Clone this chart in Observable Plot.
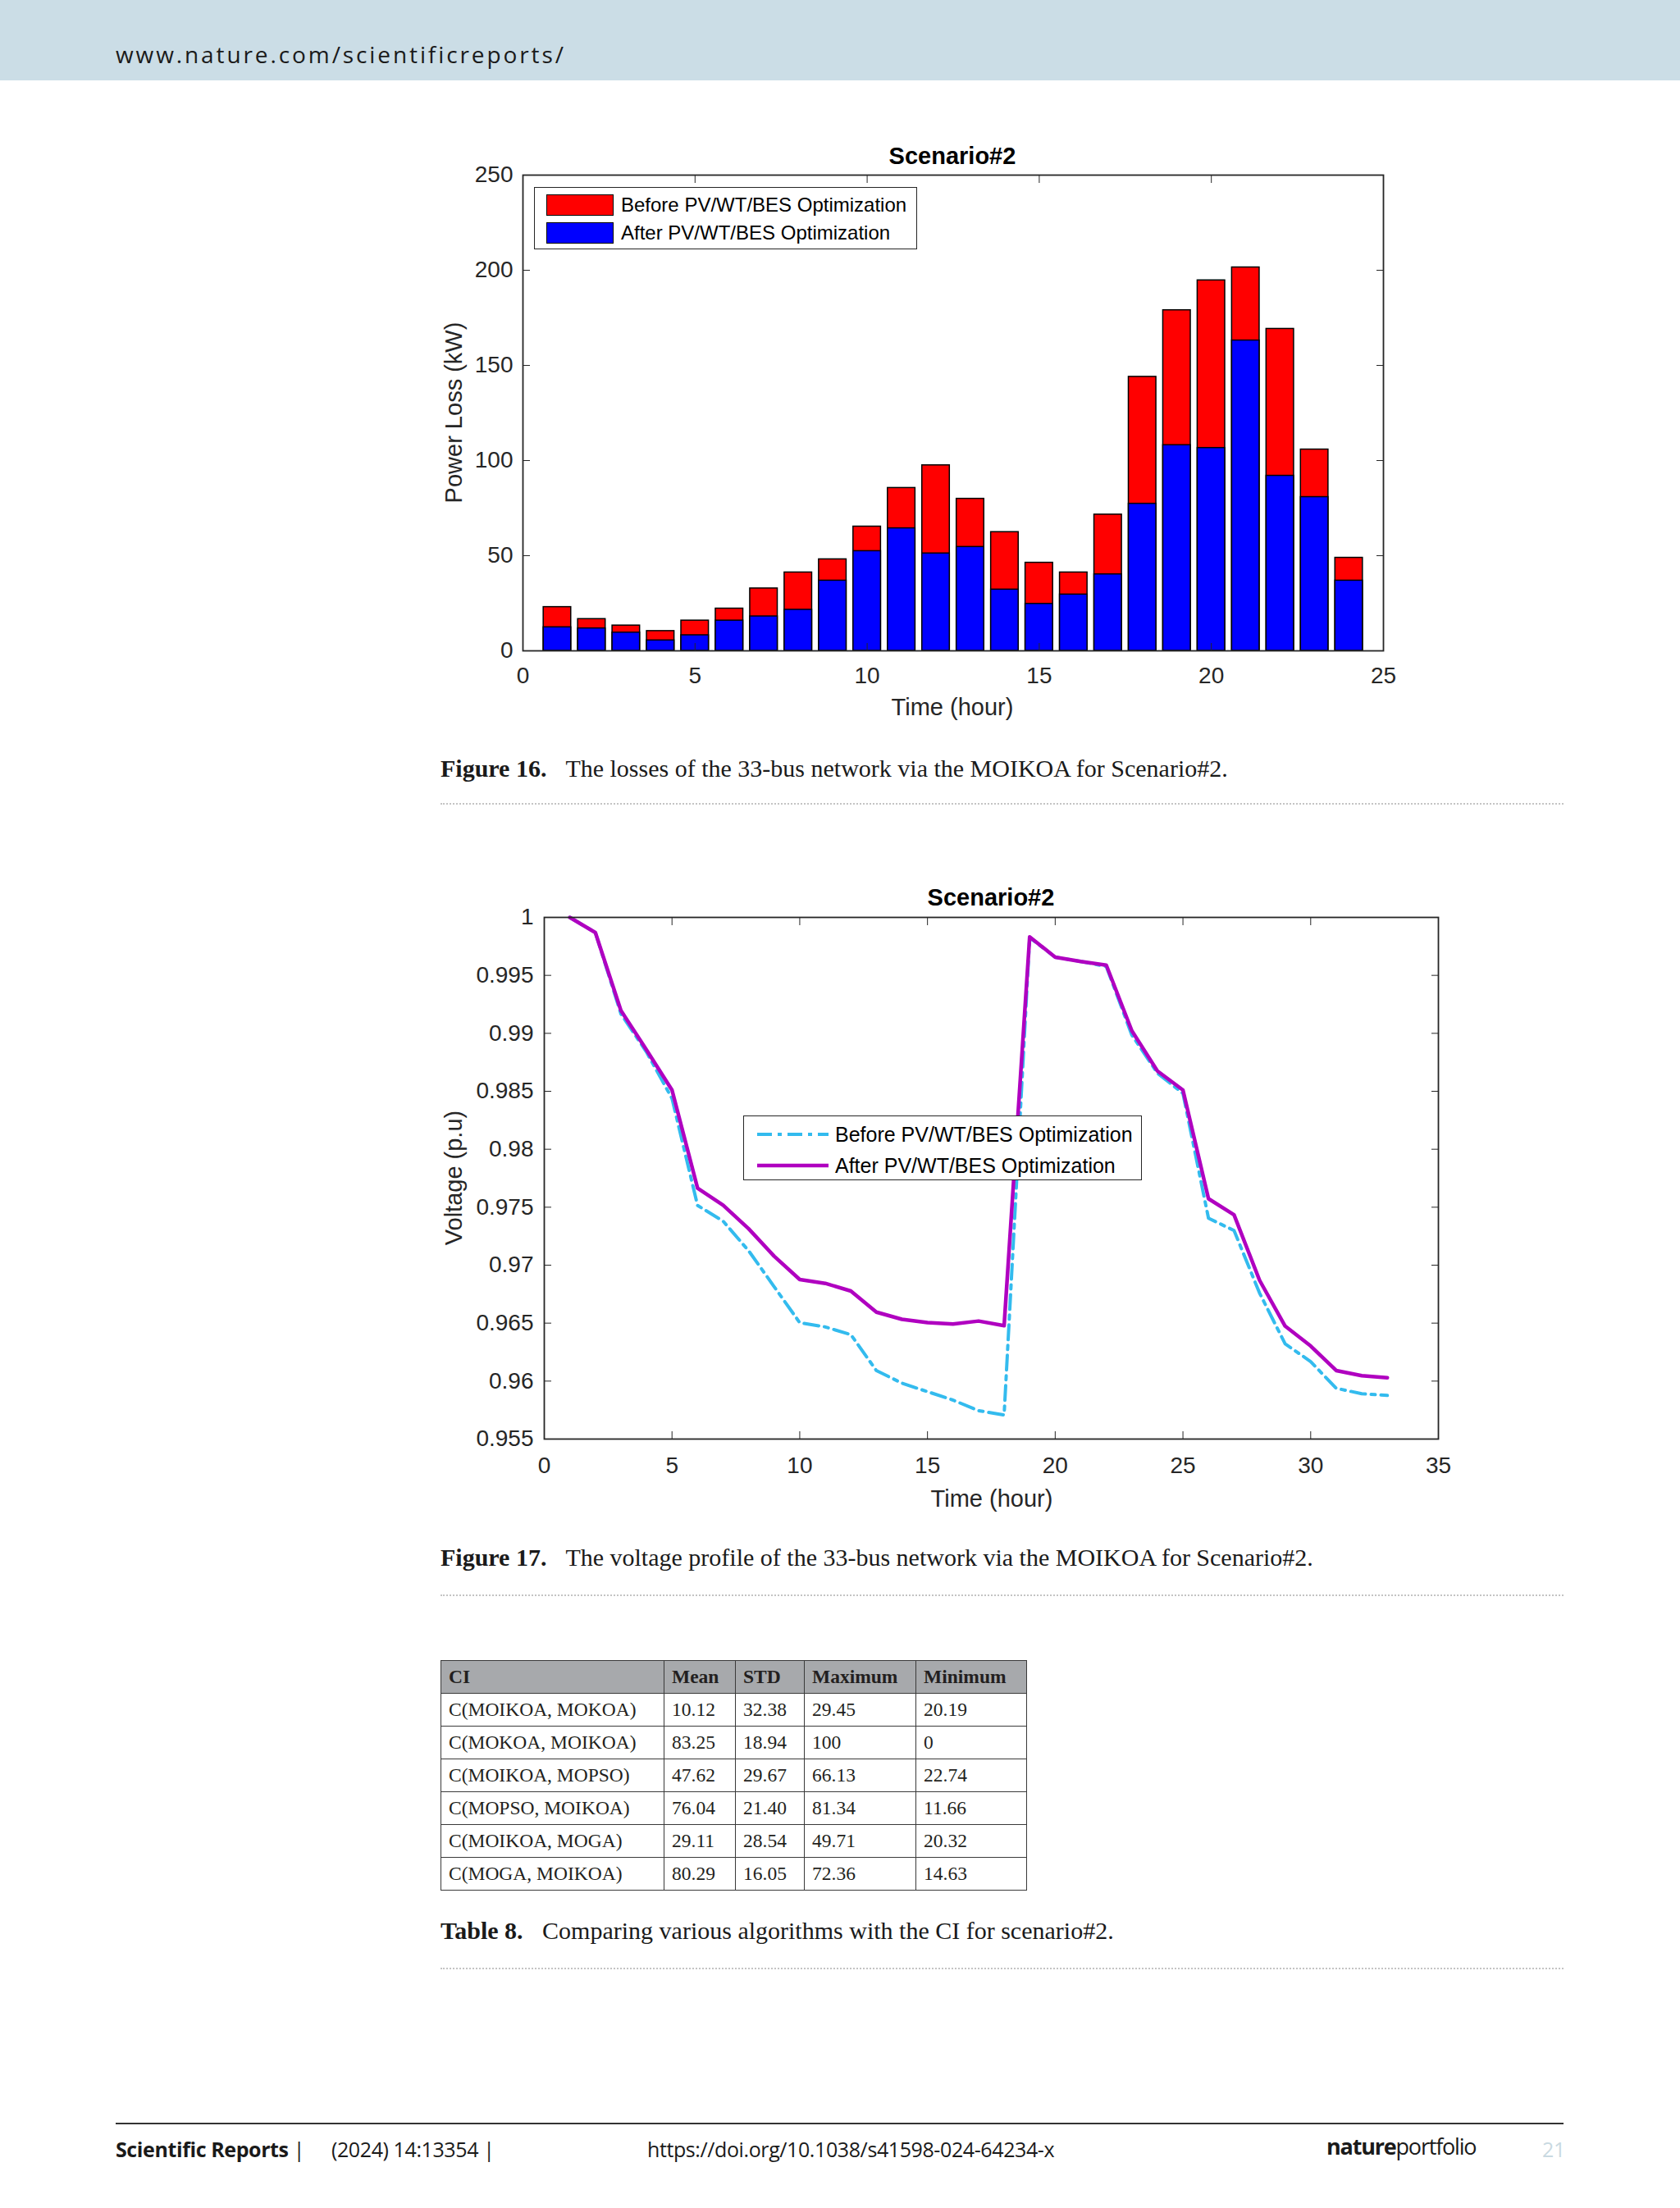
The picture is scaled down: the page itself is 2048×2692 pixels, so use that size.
<!DOCTYPE html>
<html>
<head>
<meta charset="utf-8">
<script src="https://cdn.jsdelivr.net/npm/d3@7"></script>
<script src="https://cdn.jsdelivr.net/npm/@observablehq/plot@0.6"></script>
<style>
  html, body { margin: 0; padding: 0; background: #fff; }
  body { width: 2048px; height: 2692px; position: relative; overflow: hidden; }
  .abs { position: absolute; }
  .band { left: 0; top: 0; width: 2048px; height: 98px; background: #cbdde6; }
  .site { left: 141px; top: 49px; font-family: "Open Sans", sans-serif; font-size: 28px; letter-spacing: 2.9px; color: #1a1a1a; line-height: 34px; white-space: nowrap; }
  .ctitle { font-family: "Liberation Sans", Arial, sans-serif; font-weight: bold; font-size: 29px; color: #000; transform: translate(-50%, -50%); white-space: nowrap; }
  .alabel { font-family: "Liberation Sans", Arial, sans-serif; font-size: 29px; color: #262626; transform: translate(-50%, -50%); white-space: nowrap; }
  .ylabel { transform: translate(-50%, -50%) rotate(-90deg); }
  .legend { border: 1.5px solid #262626; background: #fff; box-sizing: border-box; font-family: "Liberation Sans", Arial, sans-serif; color: #000; }
  .lrow { position: absolute; white-space: nowrap; line-height: 30px; }
  .sw { position: absolute; box-sizing: border-box; border: 1.5px solid #000; }
  .caption { left: 537px; font-family: "Liberation Serif", "Times New Roman", serif; font-size: 30px; color: #1a1a1a; white-space: nowrap; line-height: 36px; }
  .caption b { margin-right: 16px; }
  .dots { left: 537px; width: 1369px; height: 0; border-top: 2px dotted #c4c4c4; }
  table.ci { border-collapse: collapse; table-layout: fixed; width: 714px; font-family: "Liberation Serif", "Times New Roman", serif; font-size: 23.5px; color: #231f20; }
  table.ci td, table.ci th { border: 1.5px solid #3a3a3a; height: 39px; padding: 0 0 0 9px; text-align: left; vertical-align: middle; white-space: nowrap; overflow: hidden; }
  table.ci th { background: #a7a9ac; font-weight: bold; }
  .foot { top: 2603px; font-family: "Open Sans", sans-serif; font-size: 25px; color: #1a1a1a; line-height: 34px; white-space: nowrap; letter-spacing: -0.4px; }
</style>
</head>
<body>
<div class="abs band"></div>
<div class="abs site">www.nature.com/scientificreports/</div>

<div id="chart1" class="abs" style="left:520px; top:160px;"></div>
<div id="chart2" class="abs" style="left:520px; top:1070px;"></div>

<div class="abs caption" style="top:919px;"><b>Figure 16.</b> The losses of the 33-bus network via the MOIKOA for Scenario#2.</div>
<div class="abs dots" style="top:979px;"></div>
<div class="abs caption" style="top:1881px;"><b>Figure 17.</b> The voltage profile of the 33-bus network via the MOIKOA for Scenario#2.</div>
<div class="abs dots" style="top:1944px;"></div>

<div id="tablebox" class="abs" style="left:537px; top:2024px;"></div>
<div class="abs caption" style="top:2336px;"><b>Table 8.</b> Comparing various algorithms with the CI for scenario#2.</div>
<div class="abs dots" style="top:2399px;"></div>

<div class="abs" style="left:141px; top:2588px; width:1765px; height:2px; background:#333;"></div>
<div class="abs foot" style="left:141px;"><b>Scientific Reports</b> |</div>
<div class="abs foot" style="left:404px;">(2024) 14:13354 |</div>
<div class="abs foot" style="left:789px;">https://doi.org/10.1038/s41598-024-64234-x</div>
<div class="abs foot" style="left:1617px; font-size:27px; letter-spacing:-1.2px; top:2600px;"><b>nature</b>portfolio</div>
<div class="abs foot" style="left:1880px; color:#c9d9e1;">21</div>

<script>
// ---------- Figure 16 data: power loss (kW) per hour ----------
const hours = [1,2,3,4,5,6,7,8,9,10,11,12,13,14,15,16,17,18,19,20,21,22,23,24];
const lossBefore = [23.0,16.7,13.3,10.4,15.9,22.2,32.8,41.2,48.1,65.3,85.6,97.5,79.9,62.4,46.3,41.2,71.6,144.0,179.0,194.7,201.5,169.2,105.8,48.9];
const lossAfter  = [12.4,11.8,9.6,5.5,8.2,15.9,18.1,21.6,36.9,52.4,64.4,51.2,54.6,32.2,24.7,29.6,40.2,77.3,108.1,106.6,163.1,92.0,80.8,36.9];
const lossXTicks = [0,5,10,15,20,25];
const lossYTicks = [0,50,100,150,200,250];

// ---------- Figure 17 data: voltage profile (p.u) ----------
const buses = [1,2,3,4,5,6,7,8,9,10,11,12,13,14,15,16,17,18,19,20,21,22,23,24,25,26,27,28,29,30,31,32,33];
const voltBefore = [1.0,0.99869,0.99168,0.98839,0.98438,0.97515,0.97380,0.97124,0.96814,0.96504,0.96467,0.96401,0.96091,0.95982,0.95909,0.95836,0.95745,0.95708,0.99825,0.99657,0.99620,0.99577,0.98985,0.98657,0.98482,0.97405,0.97299,0.96759,0.96321,0.96168,0.95938,0.95891,0.95876];
const voltAfter  = [1.0,0.99869,0.99197,0.98858,0.98511,0.97664,0.97518,0.97314,0.97077,0.96876,0.96843,0.96777,0.96595,0.96533,0.96504,0.96493,0.96518,0.96478,0.99832,0.99657,0.99620,0.99588,0.99022,0.98675,0.98511,0.97573,0.97434,0.96869,0.96474,0.96303,0.96091,0.96047,0.96029];
const voltXTicks = [0,5,10,15,20,25,30,35];
const voltYTicks = [0.955,0.96,0.965,0.97,0.975,0.98,0.985,0.99,0.995,1];

// ---------- Table 8 data ----------
const tableHeader = ["CI","Mean","STD","Maximum","Minimum"];
const ciNames = ["C(MOIKOA, MOKOA)","C(MOKOA, MOIKOA)","C(MOIKOA, MOPSO)","C(MOPSO, MOIKOA)","C(MOIKOA, MOGA)","C(MOGA, MOIKOA)"];
const ciMean = ["10.12","83.25","47.62","76.04","29.11","80.29"];
const ciStd  = ["32.38","18.94","29.67","21.40","28.54","16.05"];
const ciMax  = ["29.45","100","66.13","81.34","49.71","72.36"];
const ciMin  = ["20.19","0","22.74","11.66","20.32","14.63"];

const seriesNames = ["Before PV/WT/BES Optimization", "After PV/WT/BES Optimization"];
const AX = "#262626";
const TL = 9; // inward tick length

function inwardTicks(xt, yt) {
  return [
    Plot.axisX({ticks: xt, anchor: "bottom", tickSize: TL, dy: -TL, fill: "none", stroke: AX, label: null}),
    Plot.axisX({ticks: xt, anchor: "top", tickSize: TL, dy: TL, fill: "none", stroke: AX, label: null}),
    Plot.axisY({ticks: yt, anchor: "left", tickSize: TL, dx: TL, fill: "none", stroke: AX, label: null}),
    Plot.axisY({ticks: yt, anchor: "right", tickSize: TL, dx: -TL, fill: "none", stroke: AX, label: null})
  ];
}

const plotStyle = {fontFamily: "'Liberation Sans', Arial, sans-serif", fontSize: "28px", color: AX, background: "transparent", overflow: "visible"};

// ---------- Chart 1 ----------
const lossData = hours.map((h, i) => ({hour: h, before: lossBefore[i], after: lossAfter[i]}));
const chart1 = Plot.plot({
  width: 1200, height: 740,
  marginLeft: 117, marginRight: 34, marginTop: 53, marginBottom: 107,
  style: plotStyle,
  x: {domain: [0, 25]},
  y: {domain: [0, 250]},
  marks: [
    Plot.rect(lossData, {x1: d => d.hour - 0.4, x2: d => d.hour + 0.4, y1: 0, y2: "before", fill: "#ff0000", stroke: "#000", strokeWidth: 1.5}),
    Plot.rect(lossData, {x1: d => d.hour - 0.4, x2: d => d.hour + 0.4, y1: 0, y2: "after", fill: "#0000ff", stroke: "#000", strokeWidth: 1.5}),
    Plot.frame({stroke: AX, strokeWidth: 1.8}),
    ...inwardTicks(lossXTicks, lossYTicks),
    Plot.axisX({ticks: lossXTicks, tickSize: 0, tickPadding: 20, label: null, fill: AX, tickFormat: d => String(d)}),
    Plot.axisY({ticks: lossYTicks, tickSize: 0, tickPadding: 12, label: null, fill: AX, tickFormat: d => String(d)})
  ]
});
const c1 = document.getElementById("chart1");
c1.appendChild(chart1);

function addHTML(parent, html) { parent.insertAdjacentHTML("beforeend", html); }
addHTML(c1, `<div class="abs ctitle" style="left:641px; top:30px;">Scenario#2</div>`);
addHTML(c1, `<div class="abs alabel" style="left:641px; top:702px;">Time (hour)</div>`);
addHTML(c1, `<div class="abs alabel ylabel" style="left:33px; top:343px;">Power Loss (kW)</div>`);
addHTML(c1, `<div class="abs legend" style="left:131px; top:68px; width:467px; height:76px;">
  <div class="sw" style="left:14px; top:8px; width:82px; height:26px; background:#ff0000;"></div>
  <div class="lrow" style="left:105px; top:6px; font-size:24px;">${seriesNames[0]}</div>
  <div class="sw" style="left:14px; top:42px; width:82px; height:26px; background:#0000ff;"></div>
  <div class="lrow" style="left:105px; top:40px; font-size:24px;">${seriesNames[1]}</div>
</div>`);

// ---------- Chart 2 ----------
const voltData = buses.map((b, i) => ({bus: b, before: voltBefore[i], after: voltAfter[i]}));
const CYAN = "#33bbee", MAG = "#b000c0";
const DASH = "18,7,5,7";
const chart2 = Plot.plot({
  width: 1260, height: 810,
  marginLeft: 143, marginRight: 27, marginTop: 48, marginBottom: 126,
  style: plotStyle,
  x: {domain: [0, 35]},
  y: {domain: [0.955, 1]},
  marks: [
    Plot.line(voltData, {x: "bus", y: "before", stroke: CYAN, strokeWidth: 4, strokeDasharray: DASH}),
    Plot.line(voltData, {x: "bus", y: "after", stroke: MAG, strokeWidth: 4.5}),
    Plot.frame({stroke: AX, strokeWidth: 1.8}),
    ...inwardTicks(voltXTicks, voltYTicks),
    Plot.axisX({ticks: voltXTicks, tickSize: 0, tickPadding: 22, label: null, fill: AX, tickFormat: d => String(d)}),
    Plot.axisY({ticks: voltYTicks, tickSize: 0, tickPadding: 13, label: null, fill: AX, tickFormat: d => String(d)})
  ]
});
const c2 = document.getElementById("chart2");
c2.appendChild(chart2);
addHTML(c2, `<div class="abs ctitle" style="left:688px; top:24px;">Scenario#2</div>`);
addHTML(c2, `<div class="abs alabel" style="left:689px; top:757px;">Time (hour)</div>`);
addHTML(c2, `<div class="abs alabel ylabel" style="left:33px; top:366px;">Voltage (p.u)</div>`);
addHTML(c2, `<div class="abs legend" style="left:386px; top:290px; width:486px; height:79px;">
  <svg class="abs" style="left:14px; top:8px;" width="92" height="64">
    <line x1="2" y1="14" x2="89" y2="14" stroke="${CYAN}" stroke-width="4" stroke-dasharray="${DASH}"/>
    <line x1="2" y1="52" x2="89" y2="52" stroke="${MAG}" stroke-width="4.5"/>
  </svg>
  <div class="lrow" style="left:111px; top:7px; font-size:25px;">${seriesNames[0]}</div>
  <div class="lrow" style="left:111px; top:45px; font-size:25px;">${seriesNames[1]}</div>
</div>`);

// ---------- Table ----------
const colW = [272, 87, 84, 136, 135];
const cols = "<colgroup>" + colW.map(w => `<col style="width:${w}px">`).join("") + "</colgroup>";
const th = "<tr>" + tableHeader.map(h => `<th>${h}</th>`).join("") + "</tr>";
const rows = ciNames.map((n, i) => `<tr><td>${n}</td><td>${ciMean[i]}</td><td>${ciStd[i]}</td><td>${ciMax[i]}</td><td>${ciMin[i]}</td></tr>`).join("");
document.getElementById("tablebox").innerHTML = `<table class="ci">${cols}${th}${rows}</table>`;
</script>
</body>
</html>
